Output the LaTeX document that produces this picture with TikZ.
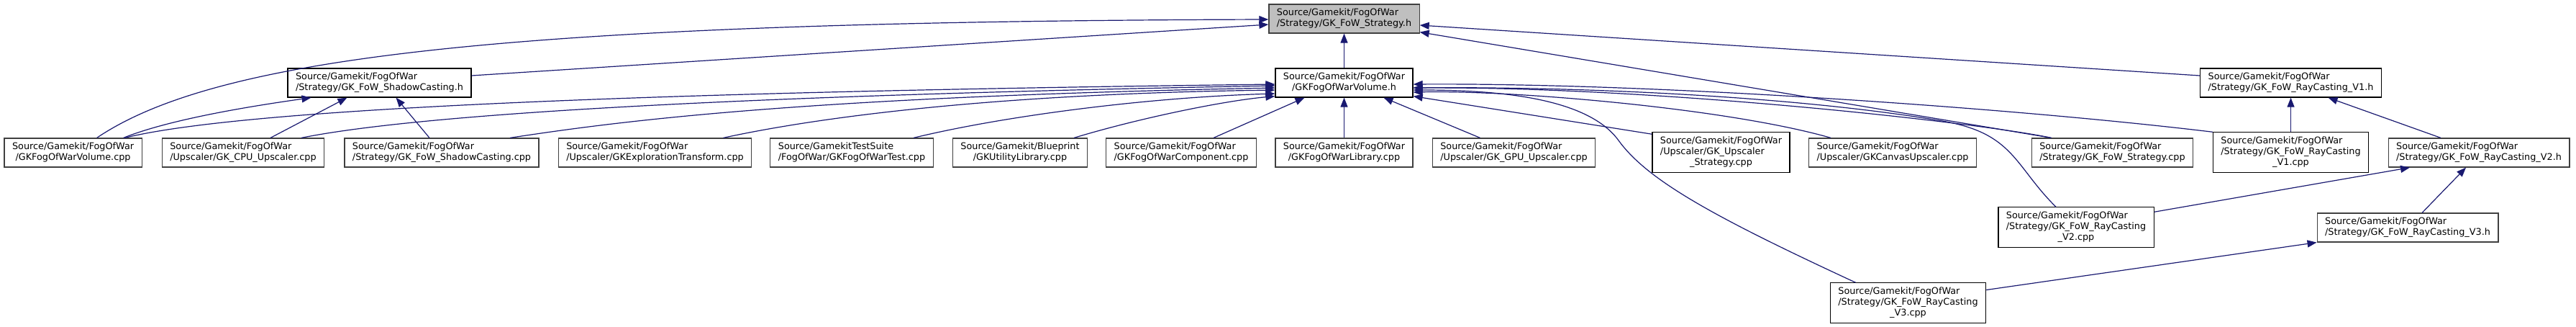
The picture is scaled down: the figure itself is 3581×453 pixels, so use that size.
\documentclass[tikz,border=0pt]{standalone}
\usepackage{fontspec}
\setmainfont{DejaVu Sans}
\usepackage{tikz}
\usetikzlibrary{arrows.meta}
\definecolor{edgeblue}{HTML}{191970}
\definecolor{boxgray}{HTML}{404040}
\definecolor{rootfill}{HTML}{BFBFBF}
\newcommand{\twolines}[2]{\begin{tabular}{@{}l@{}}#1\\\multicolumn{1}{@{}c@{}}{#2}\end{tabular}}
\newcommand{\threelines}[3]{\begin{tabular}{@{}l@{}}#1\\#2\\\multicolumn{1}{@{}c@{}}{#3}\end{tabular}}

\begin{document}
\begin{tikzpicture}[x=1pt,y=-1pt,->,>={Triangle[length=13pt,width=10pt]}]
  \tikzstyle{file}=[draw=black,fill=white,line width=1.2pt,inner xsep=11pt,inner ysep=4.7pt,font=\fontsize{12.8}{15.3}\selectfont]
  \tikzstyle{leaf}=[file,draw=boxgray]
  \tikzstyle{dep}=[draw=edgeblue,line width=1.2pt]
  \useasboundingbox (0,0) rectangle (3581,453);
  % headers
  \node[leaf,fill=rootfill] (ST) at (1868.5,26) {\twolines{Source/Gamekit/FogOfWar}{/Strategy/GK\_FoW\_Strategy.h}};
  \node[file] (SC) at (527.5,115) {\twolines{Source/Gamekit/FogOfWar}{/Strategy/GK\_FoW\_ShadowCasting.h}};
  \node[file] (V) at (1868.5,115) {\twolines{Source/Gamekit/FogOfWar}{/GKFogOfWarVolume.h}};
  \node[file] (R1) at (3184.5,115) {\twolines{Source/Gamekit/FogOfWar}{/Strategy/GK\_FoW\_RayCasting\_V1.h}};
  \node[leaf] (R2) at (3446,212) {\twolines{Source/Gamekit/FogOfWar}{/Strategy/GK\_FoW\_RayCasting\_V2.h}};
  \node[leaf] (R3) at (3347,316) {\twolines{Source/Gamekit/FogOfWar}{/Strategy/GK\_FoW\_RayCasting\_V3.h}};
  % sources
  \node[leaf] (VC) at (101.6,212) {\twolines{Source/Gamekit/FogOfWar}{/GKFogOfWarVolume.cpp}};
  \node[leaf] (CPU) at (338,212) {\twolines{Source/Gamekit/FogOfWar}{/Upscaler/GK\_CPU\_Upscaler.cpp}};
  \node[leaf] (SCC) at (614,212) {\twolines{Source/Gamekit/FogOfWar}{/Strategy/GK\_FoW\_ShadowCasting.cpp}};
  \node[leaf] (ET) at (910.5,212) {\twolines{Source/Gamekit/FogOfWar}{/Upscaler/GKExplorationTransform.cpp}};
  \node[leaf] (TS) at (1184,212) {\twolines{Source/GamekitTestSuite}{/FogOfWar/GKFogOfWarTest.cpp}};
  \node[leaf] (UL) at (1418,212) {\twolines{Source/Gamekit/Blueprint}{/GKUtilityLibrary.cpp}};
  \node[leaf] (CO) at (1642,212) {\twolines{Source/Gamekit/FogOfWar}{/GKFogOfWarComponent.cpp}};
  \node[leaf] (LI) at (1868.5,212) {\twolines{Source/Gamekit/FogOfWar}{/GKFogOfWarLibrary.cpp}};
  \node[leaf] (GPU) at (2104.5,212) {\twolines{Source/Gamekit/FogOfWar}{/Upscaler/GK\_GPU\_Upscaler.cpp}};
  \node[file] (US) at (2392.5,211.5) {\threelines{Source/Gamekit/FogOfWar}{/Upscaler/GK\_Upscaler}{\_Strategy.cpp}};
  \node[leaf] (CA) at (2631,212) {\twolines{Source/Gamekit/FogOfWar}{/Upscaler/GKCanvasUpscaler.cpp}};
  \node[leaf] (STC) at (2936.5,212) {\twolines{Source/Gamekit/FogOfWar}{/Strategy/GK\_FoW\_Strategy.cpp}};
  \node[file] (R1C) at (3184.5,211.5) {\threelines{Source/Gamekit/FogOfWar}{/Strategy/GK\_FoW\_RayCasting}{\_V1.cpp}};
  \node[file] (R2C) at (2886,315.5) {\threelines{Source/Gamekit/FogOfWar}{/Strategy/GK\_FoW\_RayCasting}{\_V2.cpp}};
  \node[file] (R3C) at (2652.5,420.5) {\threelines{Source/Gamekit/FogOfWar}{/Strategy/GK\_FoW\_RayCasting}{\_V3.cpp}};
  % into the strategy header
  \draw[dep] ([xshift=33pt]VC.north) .. controls (300,80) and (700,30) .. ([yshift=-1pt]ST.west);
  \draw[dep] ([yshift=10pt]SC.east) -- ([yshift=-8pt]ST.west);
  \draw[dep] (V) -- (ST);
  \draw[dep] ([xshift=-85pt]STC.north) -- ([yshift=2pt]ST.south east);
  \draw[dep] ([yshift=10pt]R1.west) -- ([yshift=-9pt]ST.east);
  % into the shadow casting header
  \draw[dep] ([xshift=70pt]VC.north) .. controls (230,168) and (330,150) .. ([xshift=-95pt]SC.south);
  \draw[dep] ([xshift=38pt]CPU.north) -- ([xshift=-45pt]SC.south);
  \draw[dep] ([xshift=-17pt]SCC.north) -- ([xshift=23pt]SC.south);
  % into the volume header
  \draw[dep] ([xshift=72pt]VC.north) .. controls (300,160) and (700,130) .. ([yshift=-2pt]V.west);
  \draw[dep] ([xshift=81pt]CPU.north) .. controls (550,165) and (900,135) .. ([yshift=-4pt]V.west);
  \draw[dep] ([xshift=95pt]SCC.north) .. controls (850,170) and (1100,135) .. ([yshift=-7pt]V.west);
  \draw[dep] ([xshift=95pt]ET.north) .. controls (1150,160) and (1400,130) .. ([yshift=-10pt]V.west);
  \draw[dep] ([xshift=86pt]TS.north) .. controls (1400,160) and (1600,135) .. ([yshift=-15pt]V.west);
  \draw[dep] ([xshift=75pt]UL.north) .. controls (1580,165) and (1700,140) .. ([yshift=2pt]V.south west);
  \draw[dep] ([xshift=45pt]CO.north) -- ([xshift=-55pt]V.south);
  \draw[dep] (LI) -- (V);
  \draw[dep] ([xshift=-47pt]GPU.north) -- ([xshift=55pt]V.south);
  \draw[dep] ([yshift=-3pt]US.north west) -- ([yshift=2pt]V.south east);
  \draw[dep] ([xshift=-86pt]CA.north) .. controls (2400,150) and (2100,125) .. ([yshift=-13pt]V.east);
  \draw[dep] ([xshift=-85pt]STC.north) .. controls (2750,170) and (2300,120) .. ([yshift=-7pt]V.east);
  \draw[dep] (R1C.north west) .. controls (2800,150) and (2300,115) .. ([yshift=-2pt]V.east);
  \draw[dep] ([xshift=-28pt]R2C.north) .. controls (2800,230) and (2800,185) .. (2700,168)
    .. controls (2500,134) and (2200,120) .. ([yshift=-7pt]V.east);
  \draw[dep] ([xshift=-73pt]R3C.north) .. controls (2380,300) and (2290,250) .. (2250,195)
    .. controls (2210,140) and (2100,125) .. ([yshift=-10pt]V.east);
  % ray casting chain
  \draw[dep] (R1C) -- (R1);
  \draw[dep] ([xshift=-53pt]R2.north) -- ([xshift=52pt]R1.south);
  \draw[dep] ([yshift=-7pt]R2C.north east) -- ([xshift=-96pt]R2.south);
  \draw[dep] ([xshift=20pt]R3.north) -- ([xshift=-18pt]R2.south);
  \draw[dep] ([yshift=18pt]R3C.east) -- (R3.south west);
\end{tikzpicture}
\end{document}
